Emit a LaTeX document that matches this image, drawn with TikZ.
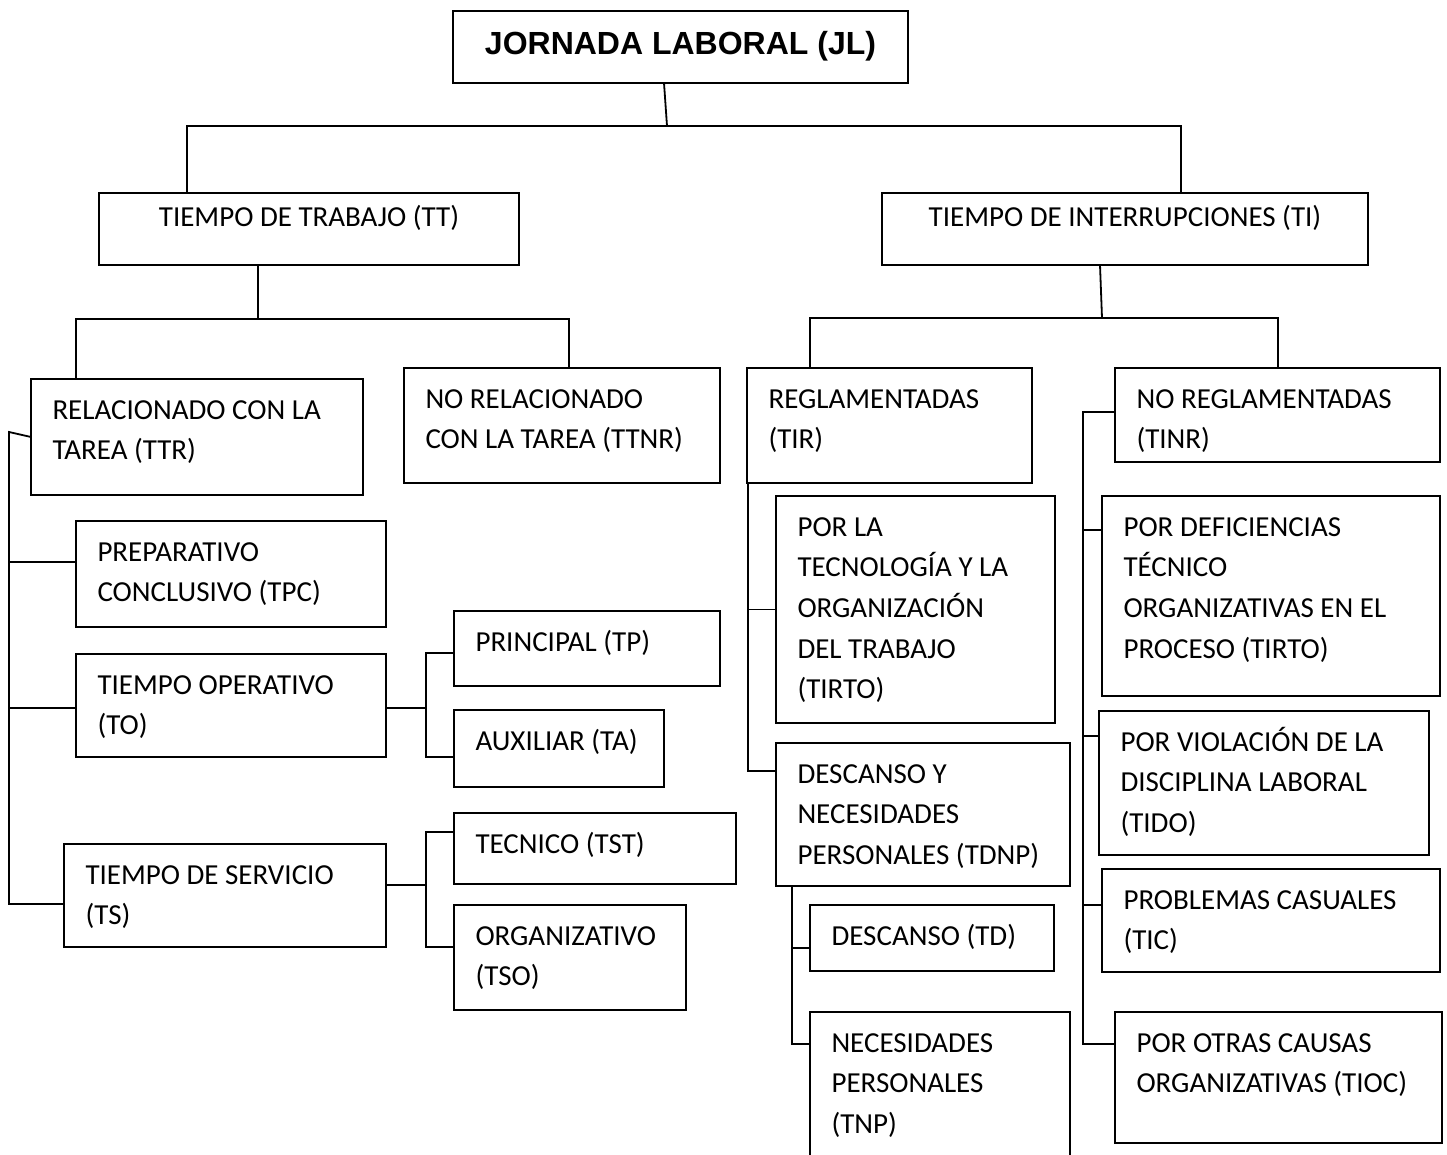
\documentclass[tikz,border=0pt]{standalone}
\usepackage{fontspec}
\setmainfont{Carlito}
\newfontfamily\titlefont{Liberation Sans}
\newcommand\bxl[3]{\parbox[t][#2pt][t]{#1pt}{\fontsize{29pt}{40.7pt}\selectfont\raggedright\leftskip=21.5pt\rule{0pt}{40pt}#3}}
\newcommand\bxc[4]{\parbox[t][#2pt][t]{#1pt}{\fontsize{29pt}{40.7pt}\selectfont\centering\rule{0pt}{#3pt}#4}}
\begin{document}
\begin{tikzpicture}[x=1pt,y=-1pt,line width=1.8pt,
  box/.style={draw, line width=1.8pt, inner sep=0pt, outer sep=0pt, anchor=north west}]
\useasboundingbox (0,0) rectangle (1447,1155);
\clip (0,0) rectangle (1447,1155);
\fill[white] (0,0) rectangle (1447,1155);
% nodes
\node[box] (JL) at (453,11) {\parbox[t][72pt][t]{455pt}{\centering\titlefont\bfseries\fontsize{32pt}{38pt}\selectfont\rule{0pt}{44pt}JORNADA LABORAL (JL)}};
\node[box] (TT) at (99,193) {\bxc{420}{72}{34}{TIEMPO DE TRABAJO (TT)}};
\node[box] (TI) at (882,193) {\bxc{486}{72}{34}{TIEMPO DE INTERRUPCIONES (TI)}};
\node[box] (TTR) at (31,379) {\bxl{332}{116}{RELACIONADO CON LA\\TAREA (TTR)}};
\node[box] (TTNR) at (404,368) {\bxl{316}{115}{NO RELACIONADO\\CON LA TAREA (TTNR)}};
\node[box] (TPC) at (76,521) {\bxl{310}{106}{PREPARATIVO\\CONCLUSIVO (TPC)}};
\node[box] (TO) at (76,654) {\bxl{310}{103}{TIEMPO OPERATIVO\\(TO)}};
\node[box] (TP) at (454,611) {\bxl{266}{75}{PRINCIPAL (TP)}};
\node[box] (TA) at (454,710) {\bxl{210}{77}{AUXILIAR (TA)}};
\node[box] (TS) at (64,844) {\bxl{322}{103}{TIEMPO DE SERVICIO\\(TS)}};
\node[box] (TST) at (454,813) {\bxl{282}{71}{TECNICO (TST)}};
\node[box] (TSO) at (454,905) {\bxl{232}{105}{ORGANIZATIVO\\(TSO)}};
\node[box] (TIR) at (747,368) {\bxl{285}{115}{REGLAMENTADAS\\(TIR)}};
\node[box] (TINR) at (1115,368) {\bxl{325}{94}{NO REGLAMENTADAS\\(TINR)}};
\node[box] (TIRTO) at (776,496) {\bxl{279}{227}{POR LA\\TECNOLOGÍA Y LA\\ORGANIZACIÓN\\DEL TRABAJO\\(TIRTO)}};
\node[box] (TDNP) at (776,743) {\bxl{294}{143}{DESCANSO Y\\NECESIDADES\\PERSONALES (TDNP)}};
\node[box] (TD) at (810,905) {\bxl{244}{66}{DESCANSO (TD)}};
\node[box] (TNP) at (810,1012) {\bxl{260}{170}{NECESIDADES\\PERSONALES\\(TNP)}};
\node[box] (TDEF) at (1102,496) {\bxl{338}{200}{POR DEFICIENCIAS\\TÉCNICO\\ORGANIZATIVAS EN EL\\PROCESO (TIRTO)}};
\node[box] (TIDO) at (1099,711) {\bxl{330}{144}{POR VIOLACIÓN DE LA\\DISCIPLINA LABORAL\\(TIDO)}};
\node[box] (TIC) at (1102,869) {\bxl{338}{103}{PROBLEMAS CASUALES\\(TIC)}};
\node[box] (TIOC) at (1115,1012) {\bxl{327}{131}{POR OTRAS CAUSAS\\ORGANIZATIVAS (TIOC)}};
% bus coordinates
\coordinate (jb) at (667,126);
\coordinate (ttb) at (258,319);
\coordinate (tib) at (1102,318);
\coordinate (lb) at (9,432);
\coordinate (tob) at (426,708);
\coordinate (tsb) at (426,885);
\coordinate (rb) at ([xshift=1pt]TIR.south west);
\coordinate (db) at ([xshift=16pt]TDNP.south west);
\coordinate (nb) at (1083,412);
% connectors
\draw ([xshift=211pt]JL.south west) -- (jb);
\draw ([xshift=88pt]TT.north west) |- (jb) -| ([xshift=299pt]TI.north west);
\draw ([xshift=159pt]TT.south west) -- (ttb);
\draw ([xshift=45pt]TTR.north west) |- (ttb) -| ([xshift=165pt]TTNR.north west);
\draw ([xshift=218pt]TI.south west) -- (tib);
\draw ([xshift=63pt]TIR.north west) |- (tib) -| ([xshift=163pt]TINR.north west);
% left bus
\draw (TTR.west) -- (lb) |- ([yshift=-8.5pt]TS.west);
\draw ([yshift=12pt]TPC.west) -| (lb);
\draw ([yshift=-2.5pt]TO.west) -| (lb);
% TO children
\draw ([yshift=-2.5pt]TO.east) -- (tob);
\draw ([yshift=-4.5pt]TP.west) -| (tob) |- ([yshift=-8.5pt]TA.west);
% TS children
\draw ([yshift=10.5pt]TS.east) -- (tsb);
\draw ([yshift=16.5pt]TST.west) -| (tsb) |- ([yshift=10.5pt]TSO.west);
% TIR bus
\draw (rb) |- ([yshift=43.5pt]TDNP.west);
\draw (TIRTO.west) -- (TIRTO.west -| rb);
% TDNP bus
\draw (db) |- ([yshift=-32pt]TNP.north west);
\draw ([yshift=-10pt]TD.west) -| (db);
% TINR bus
\draw ([yshift=3pt]TINR.west) -| (nb) |- ([yshift=-32pt]TIOC.north west);
\draw ([yshift=-34pt]TDEF.north west) -| (nb);
\draw ([yshift=-25pt]TIDO.north west) -| (nb);
\draw ([yshift=-36pt]TIC.north west) -| (nb);
\end{tikzpicture}
\end{document}
